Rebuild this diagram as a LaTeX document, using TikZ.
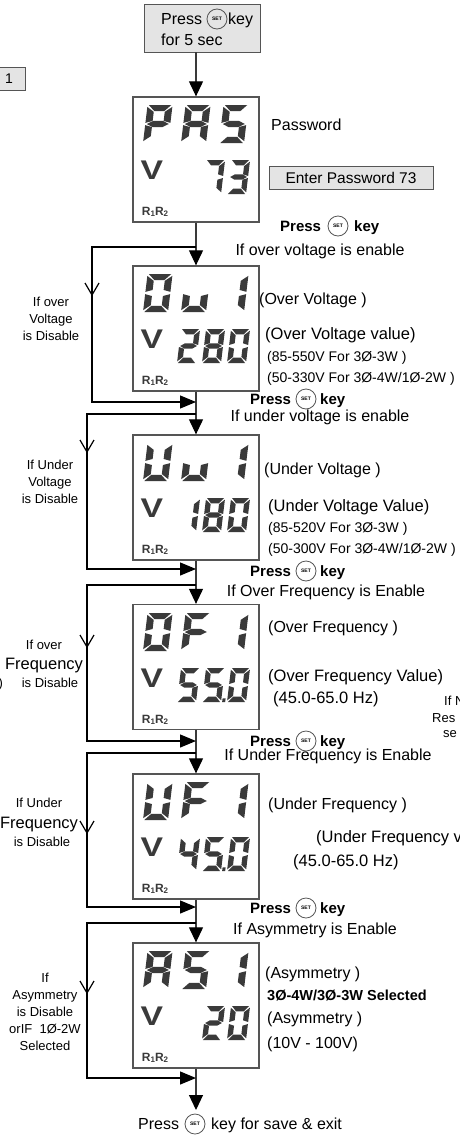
\documentclass[tikz,border=0pt]{standalone}
\usepackage{fontspec}
\setmainfont{Liberation Sans}
\usetikzlibrary{arrows.meta}
\definecolor{segc}{HTML}{3A3A3A}
\definecolor{boxfill}{HTML}{E4E4E4}
\definecolor{boxc}{HTML}{555555}
\definecolor{lineg}{HTML}{3A3A3A}

% seven-segment pieces (local unit square, v up)
\newcommand\sgA{\fill[segc] (0.05,1)--(0.95,1)--(0.70,0.84)--(0.30,0.84)--cycle;}
\newcommand\sgB{\fill[segc] (1,0.95)--(1,0.53)--(0.72,0.58)--(0.72,0.82)--cycle;}
\newcommand\sgC{\fill[segc] (1,0.05)--(1,0.47)--(0.72,0.42)--(0.72,0.18)--cycle;}
\newcommand\sgD{\fill[segc] (0.05,0)--(0.95,0)--(0.70,0.16)--(0.30,0.16)--cycle;}
\newcommand\sgE{\fill[segc] (0,0.05)--(0,0.47)--(0.28,0.42)--(0.28,0.18)--cycle;}
\newcommand\sgF{\fill[segc] (0,0.95)--(0,0.53)--(0.28,0.58)--(0.28,0.82)--cycle;}
\newcommand\sgG{\fill[segc] (0.06,0.5)--(0.30,0.58)--(0.70,0.58)--(0.94,0.5)--(0.70,0.42)--(0.30,0.42)--cycle;}
\newcommand\sgDP{\fill[segc] (1.06,0)--(1.22,0)--(1.22,0.11)--(1.06,0.11)--cycle;}

\newcommand\dgP{\sgA\sgB\sgE\sgF\sgG}
\newcommand\dgA{\sgA\sgB\sgC\sgE\sgF\sgG}
\newcommand\dgS{\sgA\sgF\sgG\sgC\sgD}
\newcommand\dgO{\sgA\sgB\sgC\sgD\sgE\sgF}
\newcommand\dgu{\sgC\sgD\sgE}
\newcommand\dgU{\sgB\sgC\sgD\sgE\sgF}
\newcommand\dgF{\sgA\sgF\sgG\sgE}
\newcommand\dgone{\sgB\sgC}
\newcommand\dgtwo{\sgA\sgB\sgG\sgE\sgD}
\newcommand\dgthree{\sgA\sgB\sgG\sgC\sgD}
\newcommand\dgfour{\sgF\sgG\sgB\sgC}
\newcommand\dgseven{\sgA\sgB\sgC}
\newcommand\dgeight{\sgA\sgB\sgC\sgD\sgE\sgF\sgG}

\newcommand\segch[5]{\begin{scope}[shift={(#1,#2)},x={(#3pt,0pt)},y={({0.12*#4pt},{#4pt})}]#5\end{scope}}
\newcommand\topch[3]{\segch{#1}{#2+46}{25}{38}{#3}}
\newcommand\botch[3]{\segch{#1}{#2+97}{19}{34}{#3}}

\newcommand\dispdeco[2]{%
  \node[vlab] (v#1) at (152,#2+73) {V};
  \node[rlab] (rr#1) at (155,#2+115) {R\raisebox{-1pt}{\fontsize{8}{8}\selectfont 1}R\raisebox{-1pt}{\fontsize{8}{8}\selectfont 2}};
}
\newcommand\vmark[2]{\draw[loopln] (#1-7,#2-12) -- (#1,#2) -- (#1+7,#2-12);}

\begin{document}
\begin{tikzpicture}[x=1pt,y=-1pt,
  txt/.style={inner sep=0pt, text height=#1, text depth=0pt},
  big/.style={txt=11.5pt, font=\fontsize{16}{19}\selectfont},
  med/.style={txt=11.8pt, font=\fontsize{16.5}{19}\selectfont},
  sml/.style={txt=10pt, font=\fontsize{14}{16}\selectfont},
  lbl/.style={inner sep=0pt, align=center, font=\fontsize{13}{17}\selectfont},
  lbs/.style={txt=9.4pt, font=\fontsize{13}{16}\selectfont},
  press/.style={txt=10.8pt, font=\fontsize{15}{18}\selectfont\bfseries},
  setbtn/.style={circle, draw=boxc, line width=0.8pt, minimum size=20pt, inner sep=0pt, font=\fontsize{5}{5}\selectfont\bfseries},
  dispbox/.style={draw=boxc, line width=1.3pt, minimum width=126pt, minimum height=125pt, inner sep=0pt},
  gbox/.style={draw=boxc, fill=boxfill, line width=0.9pt, inner sep=0pt},
  vlab/.style={inner sep=0pt, xscale=1.25, font=\fontsize{27}{27}\selectfont\bfseries, text=segc},
  rlab/.style={inner sep=0pt, font=\fontsize{12}{12}\selectfont\bfseries, text=segc},
  mainln/.style={draw=lineg, line width=1.1pt},
  dtip/.style={-{Triangle[length=15pt,width=14pt,color=black]}},
  loopln/.style={draw=black, line width=1.2pt},
  rtip/.style={-{Triangle[length=16pt,width=13pt]}}
]
\useasboundingbox (0,0) rectangle (459,1135);
\clip (0,0) rectangle (459,1135);

% ---- start box
\node[gbox, minimum width=116pt, minimum height=48pt] (st) at (202,28) {};
\node[big, anchor=west] (st1) at (161,19) {Press};
\node[setbtn] (stb) at (217,19) {SET};
\node[big, anchor=west] (st2) at (228,19) {key};
\node[big, anchor=west] (st3) at (161,40) {for 5 sec};

% ---- cut box at the left
\node[gbox, minimum width=56pt, minimum height=23pt, anchor=east] (lb) at (26,78.5) {};
\node[txt=10pt, font=\fontsize{14}{16}\selectfont] (lbt) at (9,78.5) {1};

% ---- display boxes
\node[dispbox] (d1) at (196,159.5) {};
\node[dispbox] (d2) at (196,328.5) {};
\node[dispbox] (d3) at (196,497.5) {};
\node[dispbox] (d4) at (196,667) {};
\node[dispbox] (d5) at (196,836.5) {};
\node[dispbox] (d6) at (196,1005.5) {};

\dispdeco{1}{97}
\dispdeco{2}{266}
\dispdeco{3}{435}
\dispdeco{4}{605}
\dispdeco{5}{774}
\dispdeco{6}{943}

% PAS 73
\topch{143}{97}{\dgP}\topch{181}{97}{\dgA}\topch{219}{97}{\dgS}
\botch{202}{97}{\dgseven}\botch{227}{97}{\dgthree}
% Ou1 280
\topch{143}{266}{\dgO}\topch{181}{266}{\dgu}\topch{219}{266}{\dgone}
\botch{177}{266}{\dgtwo}\botch{202}{266}{\dgeight}\botch{227}{266}{\dgO}
% Uu1 180
\topch{143}{435}{\dgU}\topch{181}{435}{\dgu}\topch{219}{435}{\dgone}
\botch{177}{435}{\dgone}\botch{202}{435}{\dgeight}\botch{227}{435}{\dgO}
% OF1 55.0
\topch{143}{605}{\dgO}\topch{181}{605}{\dgF}\topch{219}{605}{\dgone}
\botch{177}{605}{\dgS}\botch{202}{605}{\dgS\sgDP}\botch{227}{605}{\dgO}
% UF1 45.0
\topch{143}{774}{\dgU}\topch{181}{774}{\dgF}\topch{219}{774}{\dgone}
\botch{177}{774}{\dgfour}\botch{202}{774}{\dgS\sgDP}\botch{227}{774}{\dgO}
% AS1 20
\topch{143}{943}{\dgA}\topch{181}{943}{\dgS}\topch{219}{943}{\dgone}
\botch{202}{943}{\dgtwo}\botch{227}{943}{\dgO}

% ---- main connectors
\draw[mainln,dtip] (st.south -| d1.north) -- (d1.north);
\draw[mainln,dtip] (d1.south) -- (d2.north);
\draw[mainln,dtip] (d2.south) -- (d3.north);
\draw[mainln,dtip] (d3.south) -- (d4.north);
\draw[mainln,dtip] (d4.south) -- (d5.north);
\draw[mainln,dtip] (d5.south) -- (d6.north);
\coordinate (fin) at (196,1110);
\draw[mainln,dtip] (d6.south) -- (fin);

% ---- bypass loops
\coordinate (br1) at (196,247);  \coordinate (ret1) at (196,402);
\coordinate (br2) at (196,414);  \coordinate (ret2) at (196,569);
\coordinate (br3) at (196,585);  \coordinate (ret3) at (196,741);
\coordinate (br4) at (196,753);  \coordinate (ret4) at (196,907);
\coordinate (br5) at (196,923);  \coordinate (ret5) at (196,1078);
\draw[loopln,rtip] (br1) -- (92,247) -- (92,402) -- (ret1);
\draw[loopln,rtip] (br2) -- (87,414) -- (87,569) -- (ret2);
\draw[loopln,rtip] (br3) -- (87,585) -- (87,741) -- (ret3);
\draw[loopln,rtip] (br4) -- (87,753) -- (87,907) -- (ret4);
\draw[loopln,rtip] (br5) -- (87,923) -- (87,1078) -- (ret5);
\vmark{92}{295}
\vmark{87}{452}
\vmark{87}{647}
\vmark{87}{833}
\vmark{87}{993}

% ---- left labels
\node[lbl] (l1) at (51,319) {If over\\Voltage\\is Disable};
\node[lbl] (l2) at (50,482) {If Under\\Voltage\\is Disable};
\node[lbs] (l3a) at (44,645) {If over};
\node[med] (l3b) at (44,664) {Frequency};
\node[lbs] (l3c) at (50,683) {is Disable};
\node[lbs, anchor=west] (l3d) at (-1.5,683) {)};
\node[lbs] (l4a) at (39,803) {If Under};
\node[med] (l4b) at (39,823) {Frequency};
\node[lbs] (l4c) at (42,842) {is Disable};
\node[lbl] (l5) at (45,1012) {If\\Asymmetry\\is Disable\\orIF~\ 1Ø-2W\\Selected};

% ---- right labels
\node[big,anchor=west] (pw) at (271,125) {Password};
\node[gbox, minimum width=164pt, minimum height=23pt, font=\fontsize{15.5}{18}\selectfont] (ep) at (351,177.5) {Enter Password 73};

\node[press,anchor=west] (p1) at (280,226) {Press};
\node[setbtn] (s1) at (338,226) {SET};
\node[press,anchor=west] (k1) at (354,226) {key};
\node[big] (e1) at (320,250) {If over voltage is enable};

\node[big,anchor=west] (t2a) at (259,299) {(Over Voltage )};
\node[med,anchor=west] (t2b) at (265,334) {(Over Voltage value)};
\node[sml,anchor=west] (t2c) at (267,356) {(85-550V For 3Ø-3W )};
\node[sml,anchor=west] (t2d) at (267,377) {(50-330V For 3Ø-4W/1Ø-2W )};

\node[press,anchor=west] (p2) at (250,399) {Press};
\node[setbtn] (s2) at (306,399) {SET};
\node[press,anchor=west] (k2) at (320,399) {key};
\node[big] (e2) at (320,416) {If under voltage is enable};

\node[big,anchor=west] (t3a) at (264,469) {(Under Voltage )};
\node[med,anchor=west] (t3b) at (268,506) {(Under Voltage Value)};
\node[sml,anchor=west] (t3c) at (268,527) {(85-520V For 3Ø-3W )};
\node[sml,anchor=west] (t3d) at (268,548) {(50-300V For 3Ø-4W/1Ø-2W )};

\node[press,anchor=west] (p3) at (250,571) {Press};
\node[setbtn] (s3) at (306,571) {SET};
\node[press,anchor=west] (k3) at (320,571) {key};
\node[big] (e3) at (326,591) {If Over Frequency is Enable};

\node[big,anchor=west] (t4a) at (268,627) {(Over Frequency )};
\node[med,anchor=west] (t4b) at (268,676) {(Over Frequency Value)};
\node[med,anchor=west] (t4c) at (273,698) {(45.0-65.0 Hz)};
\node[lbs,anchor=west] (c1) at (444,701) {If N};
\node[lbs,anchor=west] (c2) at (432,718) {Res};
\node[lbs,anchor=west] (c3) at (443,733) {se};

\node[press,anchor=west] (p4) at (250,741) {Press};
\node[setbtn] (s4) at (306,741) {SET};
\node[press,anchor=west] (k4) at (320,741) {key};
\node[big] (e4) at (328,755) {If Under Frequency is Enable};

\node[big,anchor=west] (t5a) at (268,804) {(Under Frequency )};
\node[med,anchor=west] (t5b) at (316,837) {(Under Frequency v};
\node[med,anchor=west] (t5c) at (293,861) {(45.0-65.0 Hz)};

\node[press,anchor=west] (p5) at (250,908) {Press};
\node[setbtn] (s5) at (306,908) {SET};
\node[press,anchor=west] (k5) at (320,908) {key};
\node[big] (e5) at (315,929) {If Asymmetry is Enable};

\node[big,anchor=west] (t6a) at (265,973) {(Asymmetry )};
\node[txt=10.4pt, font=\fontsize{14.5}{17}\selectfont\bfseries, anchor=west] (t6b) at (267,995) {3Ø-4W/3Ø-3W Selected};
\node[big,anchor=west] (t6c) at (267,1018) {(Asymmetry )};
\node[big,anchor=west] (t6d) at (267,1043) {(10V - 100V)};

% ---- exit
\node[big,anchor=west] (pe) at (138,1124) {Press};
\node[setbtn] (se) at (195,1124) {SET};
\node[big,anchor=west] (ke) at (211,1124) {key for save \& exit};
\end{tikzpicture}
\end{document}
